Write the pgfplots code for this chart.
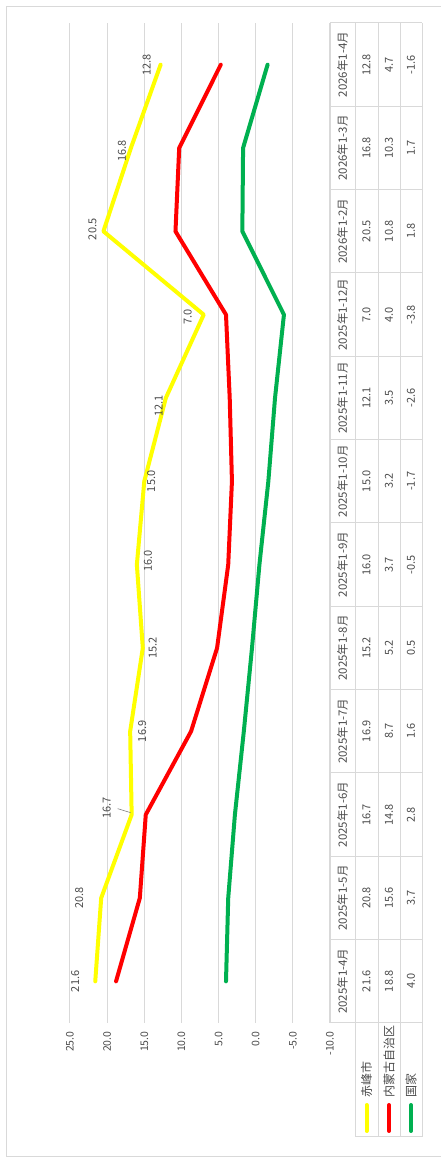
\documentclass[border=0pt]{standalone}
\usepackage{fontspec}
\setmainfont{Noto Sans CJK SC}
\usepackage{pgfplots}
\usepackage{pgfplotstable}
\pgfplotsset{compat=1.18}
\definecolor{cy}{HTML}{FFFF00}
\definecolor{cr}{HTML}{FF0000}
\definecolor{cg}{HTML}{00B050}
\definecolor{gridc}{HTML}{D9D9D9}
\definecolor{txt}{HTML}{4A4A4A}

\pgfplotstableread{
idx cf nm gj dx dy
0 21.6 18.8 4.0 -20 0
1 20.8 15.6 3.7 -22 0
2 16.7 14.8 2.8 -25 7
3 16.9 8.7 1.6 12 0
4 15.2 5.2 0.5 10 0
5 16.0 3.7 -0.5 11 4
6 15.0 3.2 -1.7 7 0
7 12.1 3.5 -2.6 -7 -8
8 7.0 4.0 -3.8 -16 -2
9 20.5 10.8 1.8 -11 2
10 16.8 10.3 1.7 -9 -3
11 12.8 4.7 -1.6 -14 0
}\datatable

\begin{document}
\begin{tikzpicture}[x=1pt,y=1pt,font=\fontsize{11}{13}\selectfont,text=txt]
\draw[gridc, line width=1pt] (6,2) rectangle (446,1152);
\begin{axis}[
  at={(70pt,136pt)}, anchor=south west,
  width=260pt, height=1000pt, scale only axis,
  xmin=-10, xmax=25, x dir=reverse,
  ymin=-0.5, ymax=11.5,
  enlargelimits=false, clip=false,
  axis line style={draw=none},
  xtick={-10,-5,...,25}, ytick=\empty,
  major tick length=0pt,
  xmajorgrids, grid style={gridc, line width=1pt},
  xticklabel={\pgfmathprintnumber[fixed,fixed zerofill,precision=1,assume math mode=true]{\tick}},
  xticklabel style={rotate=90, anchor=east, text=txt, font=\fontsize{10.5}{12}\selectfont},
  xticklabel shift=5pt,
  no markers,
]
\addplot[cy, line width=4pt, line join=round, line cap=round,
  nodes near coords, point meta=explicit symbolic,
  visualization depends on={\thisrow{dx} \as \dx},
  visualization depends on={\thisrow{dy} \as \dy},
  every node near coord/.style={xshift=\dx pt, yshift=\dy pt, rotate=90, anchor=center, text=txt}]
  table[x=cf, y=idx, meta=cf] {\datatable};
\addplot[cr, line width=4pt, line join=round, line cap=round] table[x=nm, y=idx] {\datatable};
\addplot[cg, line width=4pt, line join=round, line cap=round] table[x=gj, y=idx] {\datatable};
\draw[gray, line width=0.6pt] (axis cs:16.7,2) ++(-1pt,2pt) -- ++(-13pt,4pt);
\end{axis}
% data table
\foreach \k in {0,...,12} \draw[gridc, line width=1pt] (330,{136+1000/12*\k}) -- (422,{136+1000/12*\k});
\foreach \xx in {330,355,378,400,422} \draw[gridc, line width=1pt] (\xx,136) -- (\xx,1136);
\draw[gridc, line width=1pt] (355,22) rectangle (422,136);
\draw[gridc, line width=1pt] (378,22) -- (378,136);
\draw[gridc, line width=1pt] (400,22) -- (400,136);
\foreach \lab [count=\i from 0] in {2025年1-4月,2025年1-5月,2025年1-6月,2025年1-7月,2025年1-8月,2025年1-9月,2025年1-10月,2025年1-11月,2025年1-12月,2026年1-2月,2026年1-3月,2026年1-4月}
  \node[rotate=90, font=\fontsize{11.5}{13}\selectfont] at (342.5,{136+1000/12*(\i+0.5)}) {\lab};
\foreach \i in {0,...,11} {
  \pgfplotstablegetelem{\i}{cf}\of\datatable
  \node[rotate=90] at (366.5,{136+1000/12*(\i+0.5)}) {\pgfplotsretval};
  \pgfplotstablegetelem{\i}{nm}\of\datatable
  \node[rotate=90] at (389,{136+1000/12*(\i+0.5)}) {\pgfplotsretval};
  \pgfplotstablegetelem{\i}{gj}\of\datatable
  \node[rotate=90] at (411,{136+1000/12*(\i+0.5)}) {\pgfplotsretval};
}
% legend
\draw[cy, line width=4pt, line cap=round] (366.5,28) -- (366.5,54);
\draw[cr, line width=4pt, line cap=round] (389,28) -- (389,54);
\draw[cg, line width=4pt, line cap=round] (411,28) -- (411,54);
\node[rotate=90, anchor=west, inner sep=0pt, font=\fontsize{12}{14}\selectfont] at (366.5,61) {赤峰市};
\node[rotate=90, anchor=west, inner sep=0pt, font=\fontsize{12}{14}\selectfont] at (389,61) {内蒙古自治区};
\node[rotate=90, anchor=west, inner sep=0pt, font=\fontsize{12}{14}\selectfont] at (411,61) {国家};
\pgfresetboundingbox
\useasboundingbox (0,0) rectangle (440,1159);
\end{tikzpicture}
\end{document}
